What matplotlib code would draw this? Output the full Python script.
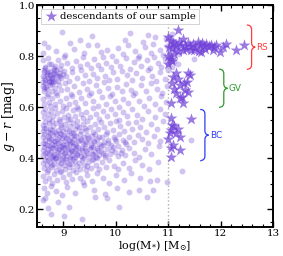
import matplotlib
matplotlib.use("Agg")
import matplotlib.pyplot as plt
from matplotlib.path import Path
from matplotlib.patches import PathPatch
import numpy as np

# ---------------- data ----------------
bg_points = [
    # 0.85-0.92
    (8.63,0.850),(8.98,0.895),(9.13,0.852),(9.32,0.862),(9.55,0.880),(9.65,0.843),(10.18,0.862),(10.27,0.890),
    (10.52,0.856),(10.62,0.882),(10.75,0.875),(10.96,0.866),(11.03,0.874),(11.07,0.886),(11.12,0.858),
    # 0.80-0.85
    (8.61,0.812),(8.70,0.834),(8.86,0.821),(9.04,0.803),(9.21,0.828),(9.39,0.811),(9.47,0.842),(9.71,0.815),
    (9.84,0.826),(9.93,0.802),(10.04,0.833),(10.13,0.808),(10.24,0.845),(10.36,0.819),(10.44,0.801),(10.56,0.836),
    (10.67,0.813),(10.71,0.847),(10.84,0.824),(10.91,0.805),(10.97,0.839),(11.01,0.818),(11.04,0.802),(11.09,0.844),
    (11.13,0.826),(11.16,0.848),(11.20,0.810),
    # 0.75-0.80
    (8.62,0.783),(8.65,0.758),(8.71,0.792),(8.77,0.771),(8.83,0.752),(8.89,0.786),(8.95,0.764),(9.01,0.797),
    (9.08,0.773),(9.16,0.754),(9.24,0.781),(9.31,0.762),(9.37,0.795),(9.46,0.771),(9.53,0.753),(9.59,0.787),
    (9.67,0.765),(9.76,0.798),(9.81,0.774),(9.91,0.756),(10.01,0.782),(10.09,0.761),(10.19,0.794),(10.27,0.751),
    (10.34,0.776),(10.43,0.791),(10.49,0.763),(10.59,0.784),(10.65,0.755),(10.73,0.796),(10.81,0.772),(10.87,0.759),
    (10.93,0.789),(10.99,0.768),(11.03,0.793),(11.07,0.757),(11.11,0.781),(11.18,0.769),(11.49,0.790),
    # 0.70-0.75
    (8.61,0.722),(8.63,0.745),(8.66,0.708),(8.69,0.733),(8.72,0.703),(8.74,0.741),(8.78,0.719),(8.81,0.712),
    (8.83,0.747),(8.86,0.726),(8.89,0.701),(8.92,0.735),(8.96,0.714),(9.01,0.742),(9.05,0.721),(9.11,0.704),
    (9.17,0.736),(9.26,0.713),(9.33,0.744),(9.41,0.725),(9.49,0.702),(9.57,0.731),(9.65,0.716),(9.71,0.748),
    (9.79,0.723),(9.87,0.706),(9.95,0.738),(10.03,0.711),(10.11,0.743),(10.21,0.727),(10.31,0.705),(10.39,0.734),
    (10.51,0.715),(10.61,0.746),(10.69,0.724),(10.77,0.703),(10.85,0.737),(10.93,0.712),(10.99,0.744),(8.76,0.715),
    (8.68,0.728),(8.87,0.744),(8.64,0.716),(8.71,0.738),(8.80,0.729),(8.94,0.722),
    # 0.65-0.70
    (8.61,0.684),(8.63,0.662),(8.66,0.693),(8.69,0.671),(8.71,0.653),(8.75,0.686),(8.78,0.664),(8.81,0.697),
    (8.84,0.676),(8.87,0.655),(8.91,0.688),(8.96,0.667),(9.03,0.695),(9.07,0.673),(9.14,0.652),(9.21,0.683),
    (9.29,0.661),(9.38,0.694),(9.45,0.672),(9.53,0.656),(9.62,0.687),(9.69,0.665),(9.78,0.698),(9.86,0.674),
    (9.93,0.651),(10.02,0.681),(10.11,0.663),(10.19,0.692),(10.29,0.669),(10.37,0.654),(10.48,0.685),(10.57,0.662),
    (10.68,0.696),(10.79,0.671),(10.89,0.657),(10.97,0.683),(8.64,0.675),(8.73,0.699),(8.67,0.681),(8.79,0.690),
    # 0.60-0.65
    (8.62,0.632),(8.64,0.611),(8.68,0.644),(8.72,0.622),(8.75,0.603),(8.79,0.637),(8.84,0.614),(8.88,0.646),
    (8.93,0.625),(8.99,0.604),(9.05,0.636),(9.10,0.613),(9.16,0.645),(9.22,0.621),(9.27,0.602),(9.34,0.634),
    (9.42,0.615),(9.49,0.647),(9.57,0.623),(9.66,0.605),(9.73,0.638),(9.82,0.612),(9.89,0.643),(9.98,0.626),
    (10.06,0.601),(10.14,0.633),(10.23,0.616),(10.33,0.648),(10.44,0.624),(10.53,0.606),(10.64,0.635),(10.75,0.611),
    (10.86,0.642),(10.95,0.621),
    # 0.55-0.60
    (8.61,0.581),(8.63,0.562),(8.66,0.593),(8.70,0.573),(8.73,0.554),(8.77,0.586),(8.80,0.565),(8.84,0.597),
    (8.88,0.576),(8.92,0.553),(8.97,0.584),(9.01,0.563),(9.05,0.595),(9.09,0.571),(9.13,0.552),(9.18,0.587),
    (9.23,0.566),(9.28,0.593),(9.33,0.574),(9.38,0.556),(9.44,0.583),(9.50,0.561),(9.56,0.596),(9.62,0.572),
    (9.69,0.555),(9.75,0.585),(9.83,0.564),(9.90,0.592),(9.98,0.575),(10.06,0.551),(10.14,0.582),(10.22,0.567),
    (10.31,0.594),(10.40,0.571),(10.51,0.553),(10.62,0.586),(10.74,0.563),(10.85,0.591),(10.94,0.572),
    # 0.50-0.55
    (8.61,0.532),(8.62,0.508),(8.65,0.543),(8.67,0.518),(8.70,0.502),(8.72,0.536),(8.75,0.514),(8.78,0.547),
    (8.81,0.525),(8.84,0.503),(8.87,0.538),(8.90,0.511),(8.93,0.545),(8.96,0.522),(9.00,0.505),(9.03,0.534),
    (9.06,0.516),(9.09,0.548),(9.12,0.527),(9.15,0.501),(9.19,0.537),(9.22,0.513),(9.26,0.544),(9.30,0.524),
    (9.34,0.506),(9.38,0.535),(9.42,0.517),(9.46,0.546),(9.51,0.523),(9.56,0.504),(9.61,0.533),(9.66,0.515),
    (9.71,0.542),(9.77,0.521),(9.83,0.502),(9.89,0.536),(9.95,0.512),(10.01,0.545),(10.08,0.526),(10.15,0.507),
    (10.23,0.538),(10.31,0.514),(10.39,0.541),(10.47,0.522),(10.57,0.503),(10.67,0.533),(10.79,0.516),(10.91,0.544),
    # 0.45-0.50
    (8.61,0.482),(8.62,0.461),(8.64,0.494),(8.66,0.472),(8.68,0.453),(8.70,0.487),(8.72,0.466),(8.74,0.497),
    (8.76,0.476),(8.78,0.455),(8.80,0.489),(8.82,0.468),(8.84,0.451),(8.86,0.493),(8.88,0.474),(8.90,0.459),
    (8.92,0.485),(8.94,0.464),(8.96,0.496),(8.98,0.478),(9.00,0.452),(9.02,0.488),(9.04,0.469),(9.06,0.457),
    (9.08,0.492),(9.10,0.473),(9.12,0.454),(9.14,0.484),(9.16,0.463),(9.18,0.498),(9.20,0.477),(9.22,0.456),
    (9.25,0.486),(9.28,0.467),(9.31,0.495),(9.34,0.475),(9.37,0.458),(9.40,0.483),(9.43,0.462),(9.46,0.491),
    (9.49,0.471),(9.52,0.453),(9.55,0.487),(9.58,0.465),(9.61,0.494),(9.65,0.474),(9.69,0.456),(9.73,0.482),
    (9.77,0.463),(9.81,0.496),(9.86,0.471),(9.91,0.452),(9.96,0.485),(10.01,0.466),(10.07,0.493),(10.13,0.473),
    (10.19,0.457),(10.26,0.484),(10.34,0.465),(10.42,0.492),(10.51,0.474),(10.61,0.458),(10.72,0.486),(10.85,0.467),
    # 0.40-0.45
    (8.61,0.432),(8.62,0.411),(8.64,0.444),(8.66,0.421),(8.68,0.403),(8.70,0.437),(8.72,0.415),(8.74,0.447),
    (8.76,0.426),(8.78,0.405),(8.80,0.439),(8.82,0.418),(8.84,0.401),(8.86,0.443),(8.88,0.424),(8.90,0.409),
    (8.92,0.435),(8.94,0.414),(8.96,0.446),(8.98,0.428),(9.00,0.402),(9.02,0.438),(9.04,0.419),(9.06,0.407),
    (9.08,0.442),(9.10,0.423),(9.12,0.404),(9.14,0.434),(9.16,0.413),(9.18,0.448),(9.20,0.427),(9.22,0.406),
    (9.24,0.436),(9.26,0.417),(9.28,0.445),(9.30,0.425),(9.33,0.408),(9.36,0.433),(9.39,0.412),(9.42,0.441),
    (9.45,0.421),(9.48,0.403),(9.51,0.437),(9.54,0.415),(9.57,0.444),(9.60,0.424),(9.63,0.406),(9.66,0.432),
    (9.69,0.413),(9.72,0.446),(9.76,0.422),(9.80,0.404),(9.84,0.436),(9.89,0.416),(9.94,0.443),(9.99,0.425),
    (10.05,0.407),(10.11,0.434),(10.18,0.414),(10.26,0.441),(10.35,0.422),(10.45,0.405),(10.56,0.437),(10.68,0.418),
    (10.82,0.446),
    # 0.35-0.40
    (8.61,0.382),(8.63,0.361),(8.65,0.394),(8.68,0.372),(8.71,0.353),(8.74,0.387),(8.77,0.366),(8.80,0.397),
    (8.83,0.376),(8.86,0.355),(8.89,0.389),(8.92,0.368),(8.95,0.351),(8.98,0.393),(9.01,0.374),(9.04,0.359),
    (9.07,0.385),(9.10,0.364),(9.13,0.396),(9.16,0.378),(9.19,0.352),(9.23,0.388),(9.27,0.369),(9.31,0.357),
    (9.35,0.392),(9.39,0.373),(9.43,0.354),(9.47,0.384),(9.52,0.363),(9.57,0.395),(9.62,0.375),(9.68,0.356),
    (9.74,0.386),(9.81,0.365),(9.88,0.391),(9.96,0.371),(10.05,0.358),(10.14,0.383),(10.25,0.362),(10.37,0.394),
    (10.50,0.374),(10.64,0.357),(10.80,0.385),(11.26,0.350),(11.44,0.470),
    # 0.30-0.35
    (8.62,0.332),(8.65,0.311),(8.69,0.344),(8.73,0.322),(8.78,0.303),(8.83,0.337),(8.88,0.315),(8.93,0.346),
    (8.99,0.326),(9.05,0.305),(9.11,0.339),(9.17,0.318),(9.24,0.344),(9.31,0.324),(9.38,0.307),(9.46,0.333),
    (9.55,0.312),(9.65,0.341),(9.76,0.321),(9.88,0.304),(10.01,0.336),(10.15,0.316),(10.30,0.343),(10.47,0.323),
    (10.65,0.309),(10.79,0.314),(10.98,0.307),
    # 0.25-0.30
    (8.63,0.282),(8.68,0.262),(8.77,0.291),(8.86,0.271),(8.97,0.254),(9.08,0.286),(9.22,0.265),(9.40,0.293),
    (9.58,0.275),(9.79,0.258),(10.02,0.284),(10.26,0.268),(10.44,0.275),(10.71,0.276),
    # 0.15-0.25
    (8.62,0.235),(8.70,0.204),(8.76,0.180),(8.89,0.228),(9.01,0.174),(9.11,0.209),(9.36,0.163),(9.61,0.248),
    (9.84,0.243),(10.06,0.209),(10.60,0.248),(8.66,0.242),
    # extra: dense blue-cloud core
    (8.65,0.455),(8.69,0.425),(8.73,0.478),(8.77,0.441),(8.81,0.408),(8.85,0.466),(8.89,0.432),(8.93,0.498),
    (8.97,0.445),(9.01,0.419),(9.05,0.481),(9.09,0.436),(9.13,0.462),(9.17,0.428),(9.21,0.489),(9.24,0.449),
    (9.27,0.412),(9.32,0.471),(9.35,0.438),(9.41,0.456),(9.44,0.429),(9.47,0.478),(9.53,0.444),(9.56,0.418),
    (9.59,0.468),(9.64,0.439),(9.68,0.485),(9.71,0.427),(9.75,0.452),(9.79,0.411),(9.85,0.461),(9.92,0.434),
    (9.98,0.476),(10.04,0.447),(10.10,0.421),(10.17,0.464),(8.71,0.392),(8.79,0.372),(8.87,0.401),(8.95,0.381),
    (9.03,0.398),(9.11,0.376),(9.19,0.395),(9.29,0.383),(9.37,0.401),(9.45,0.369),(9.55,0.392),(9.65,0.402),
    (8.63,0.518),(8.79,0.512),(8.95,0.531),(9.11,0.506),(9.27,0.528),(9.43,0.509),
    # extra: low-mass red patch
    (8.62,0.698),(8.66,0.752),(8.70,0.716),(8.73,0.771),(8.77,0.698),(8.82,0.735),(8.85,0.762),(8.90,0.722),
    (8.93,0.751),(8.99,0.729),(8.63,0.738),(8.75,0.728),(8.84,0.702),
]
bg_x = [p[0] for p in bg_points]
bg_y = [p[1] for p in bg_points]

star_x = [11.19, 11.00, 11.28, 11.05, 11.10, 11.15, 11.02, 11.20, 11.25, 11.32, 11.38, 11.42, 11.48, 11.52,
          11.56, 11.60, 11.65, 11.69, 11.72, 11.78, 11.82, 11.88, 11.92, 11.98, 12.04, 12.11, 12.30, 12.44,
          11.63, 11.44, 11.12, 11.00, 11.05, 11.00, 11.08, 11.15, 11.38, 11.34, 11.50, 11.58, 11.70, 11.85,
          11.08, 11.18, 11.28,
          11.41, 11.19, 11.10, 11.31, 11.38, 11.15, 11.22, 11.06, 11.28, 11.12, 11.23, 11.32, 11.08, 11.26, 11.35,
          11.06, 11.44, 11.06, 11.19, 11.22, 11.03, 11.09, 11.22, 11.06, 11.00, 11.12, 11.08, 11.15, 11.05]
star_y = [0.902, 0.876, 0.869, 0.860, 0.850, 0.840, 0.835, 0.855, 0.845, 0.838, 0.852, 0.840, 0.848, 0.835,
          0.855, 0.842, 0.850, 0.838, 0.848, 0.840, 0.843, 0.835, 0.845, 0.817, 0.836, 0.847, 0.824, 0.843,
          0.817, 0.824, 0.810, 0.800, 0.790, 0.771, 0.780, 0.732, 0.732, 0.828, 0.826, 0.822, 0.828, 0.826,
          0.830, 0.822, 0.825,
          0.725, 0.712, 0.720, 0.693, 0.660, 0.654, 0.634, 0.615, 0.615, 0.673, 0.686, 0.666, 0.695, 0.640, 0.700,
          0.556, 0.553, 0.510, 0.516, 0.484, 0.497, 0.451, 0.431, 0.405, 0.477, 0.525, 0.530, 0.500, 0.440]

mass_cut = 11.0
groups = ["RS", "GV", "BC"]
group_lo = [0.748, 0.599, 0.390]
group_hi = [0.922, 0.749, 0.591]
group_x = [12.59, 12.06, 11.70]
group_colors = ["#ff3b3b", "#2e9a2e", "#2f3cf5"]

# ---------------- figure ----------------
plt.rcParams["font.family"] = ["DejaVu Serif"]
plt.rcParams["mathtext.fontset"] = "dejavuserif"

fig = plt.figure(figsize=(2.83, 2.56), dpi=100)
ax = fig.add_axes([0.131, 0.113, 0.834, 0.867])

ax.scatter(bg_x, bg_y, s=18, marker="o", color="#5a2dd0", alpha=0.28, linewidths=0, zorder=1)
ax.axvline(mass_cut, color="#b0b0b0", ls=":", lw=1.0, zorder=2)
ax.scatter(star_x, star_y, s=80, marker="*", color="#7040d8", alpha=0.7, linewidths=0,
           zorder=3, label="descendants of our sample")


def brace(ax, x, y0, y1, color, w=0.09, tip=0.07):
    ym = 0.5 * (y0 + y1)
    h = 0.018
    verts = [
        (x - w, y1), (x, y1), (x, y1 - h),
        (x, ym + h),
        (x, ym), (x + tip, ym), (x + tip, ym),
        (x + tip, ym), (x, ym), (x, ym - h),
        (x, y0 + h),
        (x, y0), (x - w, y0), (x - w, y0),
    ]
    codes = [Path.MOVETO, Path.CURVE3, Path.CURVE3,
             Path.LINETO,
             Path.CURVE4, Path.CURVE4, Path.CURVE4,
             Path.CURVE4, Path.CURVE4, Path.CURVE4,
             Path.LINETO,
             Path.CURVE4, Path.CURVE4, Path.CURVE4]
    ax.add_patch(PathPatch(Path(verts, codes), fill=False, edgecolor=color, lw=0.9, zorder=4))
    return ym


for name, lo, hi, gx, c in zip(groups, group_lo, group_hi, group_x, group_colors):
    ym = brace(ax, gx, lo, hi, c)
    ax.text(gx + 0.09, ym, name, color=c, fontsize=6.4, family="DejaVu Sans",
            ha="left", va="center", zorder=5)

ax.set_xlim(8.5, 13.0)
ax.set_ylim(0.13, 1.0)
ax.set_xticks([9, 10, 11, 12, 13])
ax.set_yticks([0.2, 0.4, 0.6, 0.8, 1.0])
ax.set_xticks(np.arange(8.6, 13.0, 0.2), minor=True)
ax.set_yticks(np.arange(0.15, 1.0, 0.05), minor=True)
ax.tick_params(which="both", direction="in", top=True, right=True, labelsize=7.4, pad=1.5)
ax.tick_params(which="major", length=4, width=1.0)
ax.tick_params(which="minor", length=2, width=0.8)
for sp in ax.spines.values():
    sp.set_linewidth(1.4)

ax.set_xlabel(r"log(M$_{*}$) [M$_{\odot}$]", fontsize=8.0, labelpad=0)
ax.set_ylabel(r"$g-r$ [mag]", fontsize=9, labelpad=1)

leg = ax.legend(loc="upper left", fontsize=7.2, frameon=True, fancybox=False, borderpad=0.3,
                handletextpad=0.3, borderaxespad=0.4, handlelength=1.3, markerscale=1.0)
leg.get_frame().set_edgecolor("#cccccc")
leg.get_frame().set_linewidth(0.6)
leg.get_frame().set_alpha(1.0)

fig.savefig("out.png", dpi=100)
